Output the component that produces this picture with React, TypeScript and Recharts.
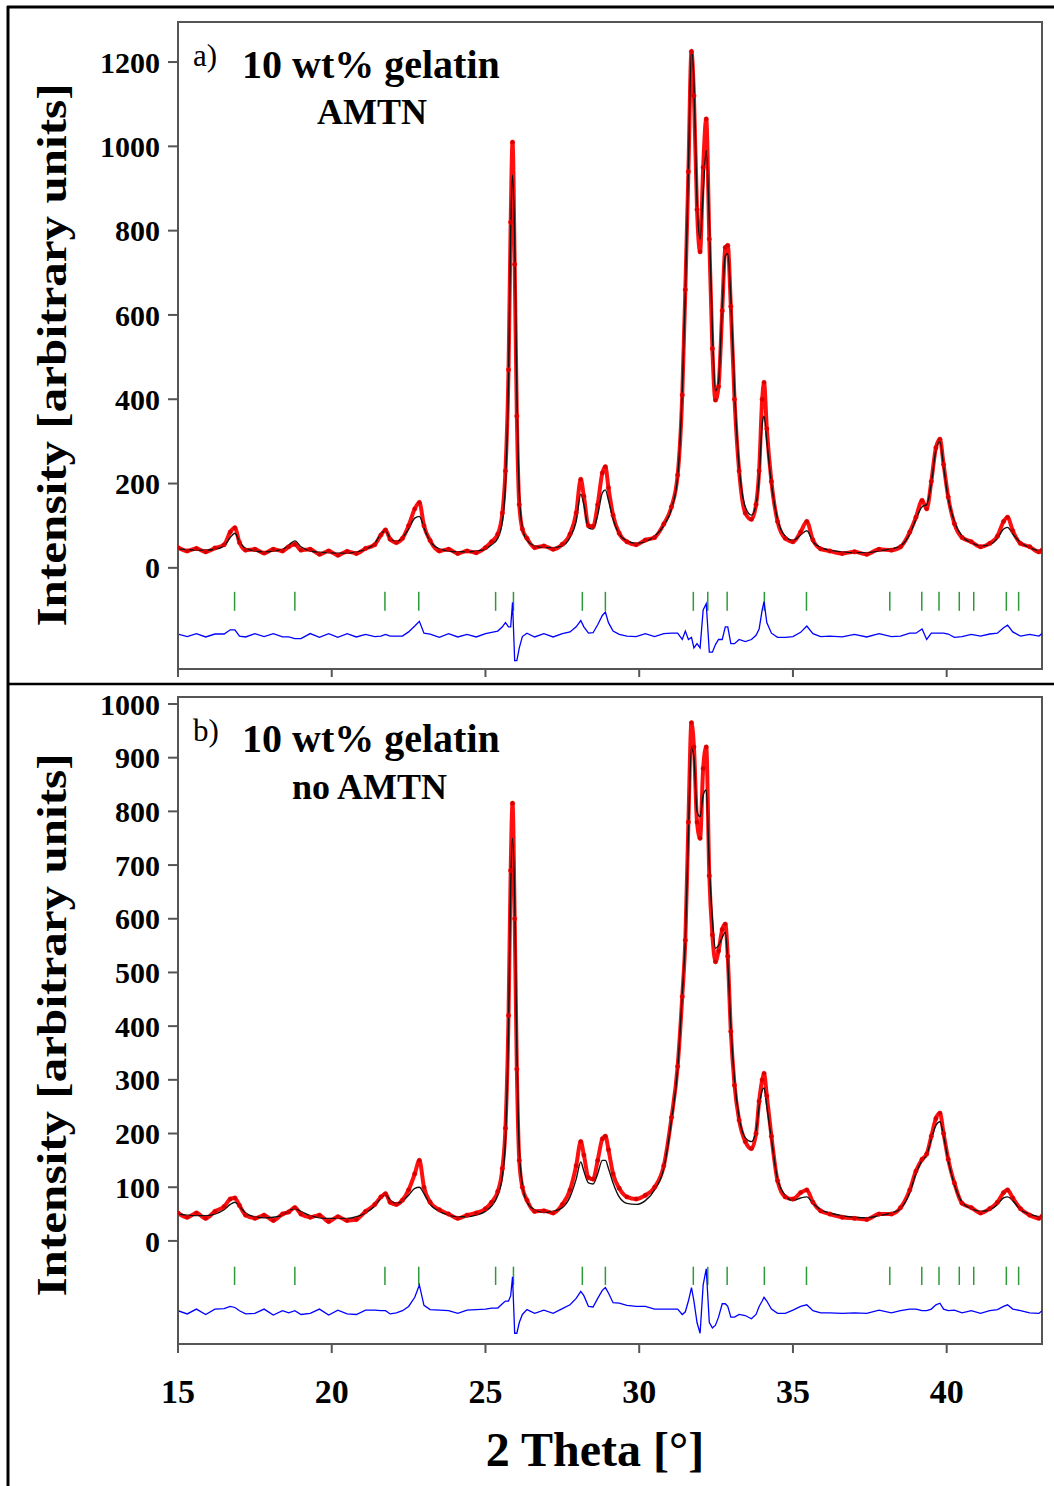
import React from 'react';
import { ComposedChart, Line, XAxis, YAxis, ReferenceLine, ReferenceArea } from 'recharts';

// 2θ ticks and y ticks
const xTicks = [15, 20, 25, 30, 35, 40];
const yTicksA = [0, 200, 400, 600, 800, 1000, 1200];
const yTicksB = [0, 100, 200, 300, 400, 500, 600, 700, 800, 900, 1000];

// hydroxyapatite reflection positions (green markers)
const braggPositions = [
  16.84, 18.8, 21.73, 22.83, 25.33, 25.91, 28.15, 28.9, 31.76, 32.23,
  32.86, 34.07, 35.44, 38.15, 39.19, 39.75, 40.41, 40.88, 41.94, 42.34,
];

// [2theta, calculated, observed] - panel a) with AMTN
const patternA: [number, number, number][] = [
  [15.0, 45, 48], [15.3, 43, 40], [15.6, 42, 46], [15.9, 42, 38], [16.2, 44, 47],
  [16.5, 52, 55], [16.7, 72, 85], [16.85, 82, 95], [17.0, 62, 60], [17.2, 46, 42],
  [17.5, 40, 44], [17.8, 38, 35], [18.1, 40, 44], [18.4, 44, 40], [18.6, 54, 50],
  [18.8, 64, 56], [19.0, 50, 42], [19.3, 40, 44], [19.6, 37, 32], [19.9, 36, 40],
  [20.2, 35, 30], [20.5, 35, 39], [20.8, 38, 34], [21.1, 44, 46], [21.4, 58, 55],
  [21.6, 80, 78], [21.75, 88, 90], [21.9, 70, 68], [22.1, 62, 60], [22.3, 72, 70],
  [22.5, 92, 100], [22.7, 118, 140], [22.85, 122, 155], [23.0, 95, 100], [23.2, 62, 65],
  [23.5, 45, 40], [23.8, 40, 44], [24.1, 38, 34], [24.4, 38, 40], [24.7, 40, 36],
  [25.0, 44, 48], [25.2, 55, 62], [25.4, 70, 80], [25.55, 110, 130], [25.65, 200, 230],
  [25.75, 450, 470], [25.82, 800, 820], [25.88, 932, 1010], [25.95, 780, 720], [26.02, 420, 360],
  [26.1, 180, 150], [26.2, 95, 92], [26.35, 65, 70], [26.6, 52, 48], [26.9, 48, 52],
  [27.2, 48, 44], [27.5, 52, 56], [27.75, 72, 80], [27.95, 110, 130], [28.1, 175, 210],
  [28.2, 150, 170], [28.35, 95, 100], [28.5, 92, 98], [28.65, 125, 150], [28.8, 178, 225],
  [28.9, 185, 240], [29.0, 160, 190], [29.15, 115, 125], [29.35, 80, 82], [29.6, 64, 62],
  [29.9, 58, 55], [30.2, 62, 66], [30.5, 75, 72], [30.8, 100, 104], [31.05, 140, 145],
  [31.25, 215, 220], [31.4, 420, 410], [31.5, 650, 660], [31.6, 950, 940], [31.7, 1230, 1225],
  [31.78, 1150, 1120], [31.88, 870, 850], [31.98, 780, 750], [32.08, 890, 950], [32.18, 990, 1065],
  [32.28, 820, 780], [32.38, 560, 520], [32.48, 420, 398], [32.58, 440, 430], [32.7, 620, 610],
  [32.8, 740, 760], [32.88, 745, 765], [32.98, 640, 620], [33.1, 420, 400], [33.25, 240, 230],
  [33.45, 145, 130], [33.65, 125, 115], [33.8, 150, 150], [33.9, 215, 230], [34.0, 340, 400],
  [34.06, 360, 440], [34.15, 300, 330], [34.3, 200, 205], [34.5, 115, 110], [34.75, 75, 70],
  [35.0, 65, 62], [35.25, 78, 85], [35.45, 88, 110], [35.65, 62, 66], [35.9, 48, 45],
  [36.2, 42, 40], [36.6, 38, 34], [37.0, 36, 38], [37.4, 36, 32], [37.8, 40, 44],
  [38.2, 45, 42], [38.5, 52, 50], [38.8, 80, 85], [39.0, 115, 120], [39.2, 145, 160],
  [39.35, 150, 140], [39.5, 200, 205], [39.65, 280, 285], [39.78, 300, 305], [39.9, 240, 245],
  [40.05, 165, 168], [40.25, 110, 105], [40.5, 75, 72], [40.8, 60, 62], [41.1, 52, 50],
  [41.4, 55, 58], [41.65, 70, 75], [41.85, 92, 110], [41.98, 96, 120], [42.15, 80, 88],
  [42.4, 60, 58], [42.7, 48, 50], [43.0, 40, 38], [43.1, 38, 42],
];

// [2theta, calculated, observed] - panel b) no AMTN
const patternB: [number, number, number][] = [
  [15.0, 50, 52], [15.3, 48, 44], [15.6, 47, 52], [15.9, 47, 42], [16.2, 50, 55],
  [16.5, 58, 64], [16.7, 68, 78], [16.85, 72, 80], [17.0, 64, 66], [17.2, 52, 48],
  [17.5, 45, 42], [17.8, 43, 48], [18.1, 44, 38], [18.4, 48, 50], [18.6, 56, 54],
  [18.8, 60, 62], [19.0, 55, 50], [19.3, 47, 44], [19.6, 43, 48], [19.9, 42, 36],
  [20.2, 42, 45], [20.5, 42, 38], [20.8, 45, 40], [21.1, 52, 55], [21.4, 65, 68],
  [21.6, 80, 82], [21.75, 86, 88], [21.9, 76, 72], [22.1, 70, 68], [22.3, 74, 76],
  [22.5, 85, 95], [22.7, 98, 125], [22.85, 100, 150], [23.0, 88, 100], [23.2, 68, 72],
  [23.5, 55, 58], [23.8, 48, 50], [24.1, 45, 42], [24.4, 45, 48], [24.7, 48, 52],
  [25.0, 55, 60], [25.2, 65, 72], [25.4, 85, 92], [25.55, 120, 135], [25.65, 190, 210],
  [25.75, 400, 420], [25.82, 660, 690], [25.88, 750, 815], [25.95, 640, 600], [26.02, 360, 320],
  [26.1, 170, 150], [26.2, 105, 100], [26.35, 72, 76], [26.6, 58, 55], [26.9, 53, 56],
  [27.2, 55, 52], [27.5, 62, 68], [27.75, 82, 95], [27.95, 115, 140], [28.1, 147, 185],
  [28.2, 130, 160], [28.35, 108, 118], [28.5, 106, 115], [28.65, 125, 150], [28.8, 150, 190],
  [28.9, 150, 195], [29.0, 135, 170], [29.15, 108, 125], [29.35, 82, 98], [29.6, 70, 82],
  [29.9, 68, 78], [30.2, 75, 85], [30.5, 95, 100], [30.8, 135, 140], [31.05, 225, 230],
  [31.25, 320, 325], [31.4, 460, 455], [31.5, 560, 560], [31.6, 760, 780], [31.7, 920, 965],
  [31.78, 900, 920], [31.88, 800, 780], [31.98, 790, 750], [32.08, 830, 880], [32.18, 840, 920],
  [32.28, 700, 680], [32.38, 600, 570], [32.48, 545, 520], [32.58, 550, 540], [32.7, 565, 580],
  [32.8, 575, 590], [32.88, 520, 530], [32.98, 400, 390], [33.1, 300, 290], [33.25, 230, 225],
  [33.45, 192, 185], [33.65, 185, 172], [33.8, 205, 200], [33.9, 250, 260], [34.0, 280, 300],
  [34.06, 285, 312], [34.15, 250, 270], [34.3, 190, 195], [34.5, 115, 112], [34.75, 85, 82],
  [35.0, 75, 78], [35.25, 80, 90], [35.45, 82, 95], [35.65, 70, 72], [35.9, 58, 56],
  [36.2, 52, 50], [36.6, 47, 44], [37.0, 44, 42], [37.4, 43, 40], [37.8, 47, 50],
  [38.2, 52, 50], [38.5, 60, 62], [38.8, 90, 95], [39.0, 125, 130], [39.2, 150, 152],
  [39.35, 160, 162], [39.5, 190, 195], [39.65, 215, 228], [39.78, 222, 238], [39.9, 195, 200],
  [40.05, 150, 152], [40.25, 105, 108], [40.5, 72, 70], [40.8, 60, 62], [41.1, 55, 52],
  [41.4, 58, 60], [41.65, 68, 72], [41.85, 80, 90], [41.98, 82, 95], [42.15, 75, 80],
  [42.4, 58, 60], [42.7, 50, 48], [43.0, 45, 42], [43.1, 44, 46],
];

const FONT = '"Liberation Serif", "Times New Roman", serif';
const AXIS = '#555';

interface PanelProps {
  pattern: [number, number, number][];
  yDomain: [number, number];
  yTicks: number[];
  diffOffset: number;
  bragg: [number, number];
  top: number;
  height: number;
  marginTop: number;
  xAxisHeight: number;
  marginBottom: number;
  showXLabels: boolean;
  tickMargin: number;
  tickSize: number;
}

const Panel: React.FC<PanelProps> = ({
  pattern, yDomain, yTicks, diffOffset, bragg, top, height,
  marginTop, xAxisHeight, marginBottom, showXLabels, tickMargin, tickSize,
}) => {
  const rows = pattern.map(([x, calc, obs]) => ({ x, calc, obs, diff: obs - calc + diffOffset }));
  return (
    <div style={{ position: 'absolute', left: 0, top }}>
      <ComposedChart width={1054} height={height} data={rows}
        margin={{ top: marginTop, right: 12, left: 100, bottom: marginBottom }}>
        <XAxis type="number" dataKey="x" domain={[15, 43.1]} allowDataOverflow ticks={xTicks}
          height={xAxisHeight} stroke={AXIS} strokeWidth={2} tickSize={tickSize} tickMargin={tickMargin}
          tickFormatter={(v) => (showXLabels ? String(v) : '')}
          tick={{ fontFamily: FONT, fontWeight: 'bold', fontSize: 34, fill: '#000' }} />
        <YAxis type="number" domain={yDomain} allowDataOverflow ticks={yTicks} width={78}
          stroke={AXIS} strokeWidth={2} tickSize={10} tickMargin={8} interval={0}
          tick={{ fontFamily: FONT, fontWeight: 'bold', fontSize: 30, fill: '#000' }} />
        <ReferenceArea x1={15} x2={43.1} y1={yDomain[0]} y2={yDomain[1]} fill="none"
          stroke={AXIS} strokeWidth={2} />
        {braggPositions.map((p) => (
          <ReferenceLine key={p} segment={[{ x: p, y: bragg[0] }, { x: p, y: bragg[1] }]}
            stroke="#2f9a3a" strokeWidth={1.5} />
        ))}
        <Line dataKey="diff" stroke="#0000ff" strokeWidth={1.3} dot={false} isAnimationActive={false} />
        <Line dataKey="obs" type="monotone" stroke="#ff1010" strokeWidth={4}
          dot={{ r: 2.2, fill: '#d00000', stroke: '#ff0000', strokeWidth: 0.5 }} isAnimationActive={false} />
        <Line dataKey="calc" type="monotone" stroke="#111" strokeWidth={1.4} dot={false} isAnimationActive={false} />
      </ComposedChart>
    </div>
  );
};

export default function App() {
  return (
    <div style={{ position: 'absolute', left: 0, top: 0, width: 1054, height: 1486, background: '#fff' }}>
      <Panel pattern={patternA} yDomain={[-240, 1295]} yTicks={yTicksA} diffOffset={-160}
        bragg={[-57, -102]} top={0} height={700} marginTop={22} xAxisHeight={31} marginBottom={0}
        showXLabels={false} tickMargin={2} tickSize={8} />
      <Panel pattern={patternB} yDomain={[-192, 1013]} yTicks={yTicksB} diffOffset={-132}
        bragg={[-48, -82]} top={680} height={806} marginTop={17} xAxisHeight={100} marginBottom={42}
        showXLabels={true} tickMargin={26} tickSize={9} />
      <svg width={1054} height={1486} style={{ position: 'absolute', left: 0, top: 0, pointerEvents: 'none' }}>
        <line x1={7} y1={7} x2={1054} y2={7} stroke="#000" strokeWidth={3} />
        <line x1={8} y1={6} x2={8} y2={1486} stroke="#000" strokeWidth={3} />
        <line x1={7} y1={684} x2={1054} y2={684} stroke="#000" strokeWidth={2.5} />
        <g fontFamily={FONT} fill="#000">
          <text x={193} y={66} fontSize={31}>a)</text>
          <text x={242} y={78} fontSize={40} fontWeight="bold">10 wt% gelatin</text>
          <text x={317} y={124} fontSize={36} fontWeight="bold">AMTN</text>
          <text x={193} y={741} fontSize={31}>b)</text>
          <text x={242} y={752} fontSize={40} fontWeight="bold">10 wt% gelatin</text>
          <text x={292} y={799} fontSize={36} fontWeight="bold">no AMTN</text>
          <text transform="translate(66 355) rotate(-90) scale(1.17 1)" textAnchor="middle" fontSize={42} fontWeight="bold">
            Intensity [arbitrary units]
          </text>
          <text transform="translate(66 1025) rotate(-90) scale(1.17 1)" textAnchor="middle" fontSize={42} fontWeight="bold">
            Intensity [arbitrary units]
          </text>
          <text x={595} y={1466} textAnchor="middle" fontSize={48} fontWeight="bold">2 Theta [°]</text>
        </g>
      </svg>
    </div>
  );
}
